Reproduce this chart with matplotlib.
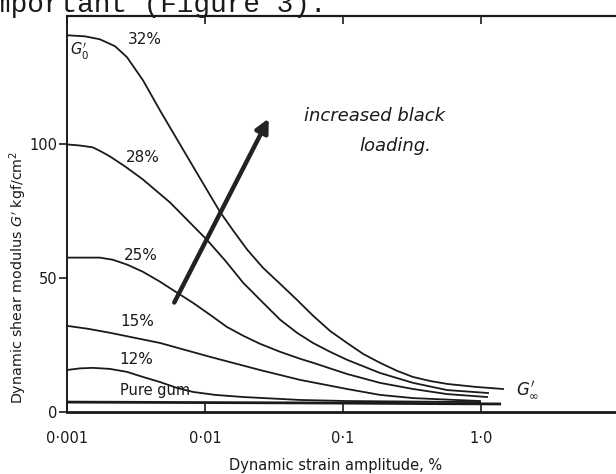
import numpy as np
import matplotlib.pyplot as plt

# strain amplitude (%) and dynamic shear modulus G' (kgf/cm2)
strain_32 = [0.001, 0.00135, 0.00173, 0.00223, 0.00272, 0.00355, 0.00472, 0.00627, 0.00818,
             0.0103, 0.0128, 0.016, 0.0202, 0.0263, 0.035, 0.0464, 0.0606, 0.0805, 0.107,
             0.14, 0.185, 0.246, 0.321, 0.427, 0.567, 0.905, 1.443]
gmod_32 = [140.8, 140.4, 139.3, 136.7, 132.6, 124.0, 112.7, 101.9, 91.8,
           83.1, 74.9, 67.8, 60.7, 53.9, 47.9, 41.9, 36.0, 30.3, 25.8,
           21.7, 18.4, 15.4, 13.1, 11.6, 10.5, 9.4, 8.6]

strain_28 = [0.001, 0.00124, 0.00154, 0.00176, 0.00205, 0.00263, 0.00355, 0.00558, 0.0103, 0.014,
             0.0189, 0.0259, 0.035, 0.0464, 0.0606, 0.0805, 0.107, 0.185, 0.321, 0.567, 1.124]
gmod_28 = [100.0, 99.6, 98.9, 97.4, 95.5, 91.8, 86.9, 78.3, 64.4, 56.6,
           48.3, 41.2, 34.5, 29.6, 25.8, 22.5, 19.5, 14.6, 10.9, 8.2, 7.1]

strain_25 = [0.001, 0.00173, 0.00215, 0.00272, 0.00355, 0.00472, 0.00627, 0.00818, 0.0109,
             0.0144, 0.0189, 0.025, 0.035, 0.0488, 0.0606, 0.107, 0.185, 0.321, 0.567, 1.105]
gmod_25 = [57.7, 57.7, 56.9, 55.1, 52.4, 48.7, 44.6, 40.8, 36.3,
           31.8, 28.5, 25.5, 22.5, 19.9, 18.4, 14.2, 10.9, 8.6, 6.7, 5.6]

strain_15 = [0.001, 0.00142, 0.00205, 0.00472, 0.0109, 0.025, 0.0488, 0.107, 0.185, 0.321, 0.983]
gmod_15 = [32.2, 31.1, 29.6, 25.8, 20.6, 15.7, 12.0, 8.6, 6.4, 5.2, 4.1]

strain_12 = [0.001, 0.00124, 0.00154, 0.00205, 0.00272, 0.00355, 0.00472, 0.00627, 0.00818,
             0.0118, 0.0189, 0.0488, 0.107, 0.983]
gmod_12 = [15.7, 16.3, 16.5, 16.1, 15.0, 13.1, 11.2, 9.0, 7.5,
           6.4, 5.6, 4.5, 4.1, 3.7]

strain_gum = [0.001, 0.0488, 1.396]
gmod_gum = [3.7, 3.4, 3.0]

curve_labels = ['32%', '28%', '25%', '15%', '12%', 'Pure gum']
xtick_vals = [0.001, 0.01, 0.1, 1.0]
xtick_text = ['0·001', '0·01', '0·1', '1·0']
ytick_vals = [0, 50, 100]

W, H = 616, 474
fig = plt.figure(figsize=(W / 100, H / 100), dpi=100)
ax = fig.add_axes([67 / W, 62 / H, 1 - 67 / W, 396 / H])

ink = '#1a1a1a'
for xs, ys in [(strain_32, gmod_32), (strain_28, gmod_28), (strain_25, gmod_25),
               (strain_15, gmod_15), (strain_12, gmod_12)]:
    ax.plot(xs, ys, color=ink, lw=1.3, solid_joinstyle='round')
ax.plot(strain_gum, gmod_gum, color=ink, lw=2.0, solid_capstyle='butt')

ax.set_xscale('log')
ax.set_xlim(0.001, 9.5)
ax.set_ylim(0, 148)

ax.set_xticks(xtick_vals)
ax.set_xticklabels(xtick_text, fontsize=10.5)
ax.xaxis.set_minor_locator(plt.NullLocator())
ax.tick_params(axis='x', direction='in', length=6, width=1.2, top=True, pad=14, colors=ink)
ax.set_yticks(ytick_vals)
ax.set_yticklabels([str(v) for v in ytick_vals], fontsize=10.5)
ax.tick_params(axis='y', direction='out', length=6, width=1.2, pad=1, colors=ink)

ax.spines['right'].set_visible(False)
ax.spines['left'].set_linewidth(1.4)
ax.spines['bottom'].set_linewidth(2.0)
ax.spines['top'].set_linewidth(1.6)
for s in ax.spines.values():
    s.set_color(ink)

ax.set_xlabel('Dynamic strain amplitude, %', fontsize=10.5, color=ink)
ax.xaxis.set_label_coords((336 - 67) / (W - 67), -46 / 396)
ax.set_ylabel("Dynamic shear modulus $G'$ kgf/cm$^2$", fontsize=10.3, color=ink)
ax.yaxis.set_label_coords((29 - 67) / (W - 67), (412 - 277) / 396)

# curve labels placed in pixel space of the scan
def px(x, y):
    return x / W, 1 - y / H

label_pos = [(145, 40), (143, 157), (141, 255), (137, 321), (136, 360), (155, 390)]
for lab, (x, y) in zip(curve_labels, label_pos):
    fig.text(*px(x, y), lab, fontsize=11 if lab != 'Pure gum' else 10.5,
             ha='center', va='center', color=ink)

fig.text(*px(80, 51), "$G_0'$", fontsize=10.5, ha='center', va='center', color=ink)
fig.text(*px(528, 390), r"$G_\infty'$", fontsize=12, ha='center', va='center', color=ink)

# hand-drawn arrow and note
ax.annotate('', xy=px(270, 116), xytext=px(173, 305), xycoords='figure fraction',
            textcoords='figure fraction',
            arrowprops=dict(arrowstyle='-|>', color='#222222', lw=3.2, mutation_scale=20))
fig.text(*px(375, 116), 'increased black', fontsize=13, ha='center', va='center',
         style='italic', color=ink)
fig.text(*px(395, 146), 'loading.', fontsize=13, ha='center', va='center',
         style='italic', color=ink)

# typed line of the page above the figure, cut by the scan
fig.text(-6 / W, 1 - 12 / H, 'mportant (Figure 3).', fontsize=20,
         family='Liberation Mono', ha='left', va='baseline', color=ink)

fig.savefig('out.png', dpi=100)
